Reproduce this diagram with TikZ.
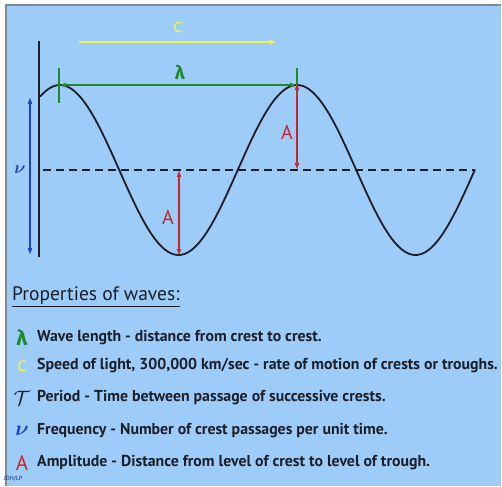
\documentclass[tikz,border=0pt]{standalone}
\usepackage{amsmath,amssymb}
\usepackage{fontspec}
\setmainfont{PT Sans}
\newfontfamily\grkfont{Fira Sans}
\usetikzlibrary{arrows.meta}
\definecolor{skyblue}{HTML}{9DCCF8}
\definecolor{framegray}{HTML}{7F8A96}
\definecolor{wavegreen}{HTML}{21882A}
\definecolor{waveyellow}{HTML}{F2F24A}
\definecolor{wavered}{HTML}{C8262E}
\definecolor{waveblue}{HTML}{1F3FC4}
\definecolor{waveink}{HTML}{1B1F2A}

\tikzset{
  dimline/.style={line width=1.3pt,{Latex[length=7pt,width=5pt]}-{Latex[length=7pt,width=5pt]}},
  legtext/.style={anchor=west,inner sep=0pt,text=waveink,font=\bfseries\fontsize{15.8}{15.8}\selectfont},
  legsym/.style={inner sep=0pt,font=\fontsize{21}{21}\selectfont}
}

\begin{document}
\begin{tikzpicture}[x=1pt,y=-1pt,>=Latex]
  \useasboundingbox (0,0) rectangle (502,486);
  \fill[white] (0,0) rectangle (502,486);
  \fill[skyblue] (6,5) rectangle (501,486);
  \draw[framegray,line width=1.5pt] (6,486) -- (6,5) -- (501,5);

  % points on the wave
  \coordinate (crestL) at (59,85);
  \coordinate (crestR) at (297,85);
  \coordinate (troughL) at (179,256);
  \coordinate (midL) at (179,170);
  \coordinate (midR) at (297,170);
  \coordinate (axisT) at (39,41);
  \coordinate (axisB) at (39,257);
  \coordinate (dashL) at (43,170);
  \coordinate (dashR) at (475,170);

  \draw[waveink,line width=1.5pt] (axisT) -- (axisB);
  \draw[waveink,line width=1.8pt,dash pattern=on 8pt off 5pt] (dashL) -- (dashR);
  \draw[waveink,line width=1.8pt] plot[domain=40:475,samples=160,smooth]
    (\x,{170-85*cos(1.519*(\x-60))});

  % speed c
  \coordinate (cL) at (79,42);
  \coordinate (cR) at (277,42);
  \draw[waveyellow,line width=1.6pt,-{Latex[length=8pt,width=6pt]}] (cL) -- (cR);
  \node[text=waveyellow,font=\fontsize{20}{20}\selectfont] (clab) at (178,28) {c};

  % wavelength
  \draw[wavegreen,line width=1.2pt] (59,68) -- (59,103);
  \draw[wavegreen,line width=1.2pt] (297,68) -- (297,88);
  \draw[wavegreen,dimline] (crestL) -- (crestR);
  \node[text=wavegreen,font=\grkfont\bfseries\fontsize{19}{19}\selectfont] (lamlab) at (180,72) {λ};

  % amplitude
  \draw[wavered,dimline] ([yshift=2pt]crestR) -- (midR);
  \draw[wavered,dimline] (midL) -- (troughL);
  \node[text=wavered,font=\fontsize{20}{20}\selectfont] (ampR) at (287,132) {A};
  \node[text=wavered,font=\fontsize{20}{20}\selectfont] (ampL) at (168,217) {A};

  % frequency
  \coordinate (nuT) at (30,97);
  \coordinate (nuB) at (30,255);
  \draw[waveblue,dimline] (nuT) -- (nuB);
  \node[text=waveblue,font=\fontsize{19}{19}\selectfont] (nulab) at (20,170) {$\boldsymbol{\nu}$};

  % legend
  \node[anchor=west,inner sep=0pt,text=waveink,font=\fontsize{19.5}{19.5}\selectfont] (props) at (12,297) {\underline{Properties of waves:}};
  \foreach \y/\sym/\txt [count=\i] in {
      338/{\textcolor{wavegreen}{\grkfont\bfseries λ}}/{Wave length - distance from crest to crest.},
      366/{\textcolor{waveyellow}{c}}/{Speed of light, 300,000 km/sec - rate of motion of crests or troughs.},
      398/{\textcolor{waveink}{$\mathcal{T}$}}/{Period - Time between passage of successive crests.},
      431/{\textcolor{waveblue}{$\boldsymbol{\nu}$}}/{Frequency - Number of crest passages per unit time.},
      463/{\textcolor{wavered}{A}}/{Amplitude - Distance from level of crest to level of trough.}} {
    \node[legsym] (sym\i) at (22,\y) {\sym};
    \node[legtext] (txt\i) at (37,\y) {\txt};
  }
  \node[anchor=west,inner sep=0pt,text=waveblue!60!black,font=\fontsize{6}{6}\selectfont] (sign) at (4,479) {JDH/LP};
\end{tikzpicture}
\end{document}
